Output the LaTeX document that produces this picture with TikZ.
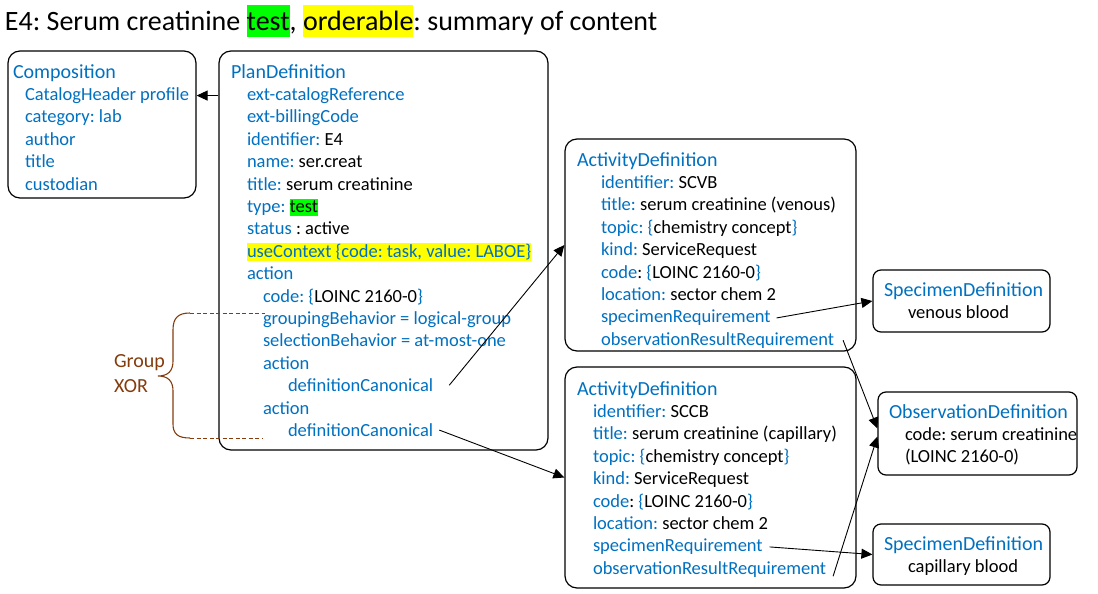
\documentclass[tikz,border=0pt]{standalone}
\usepackage{fontspec}
\setmainfont{Carlito}
\usetikzlibrary{positioning,arrows.meta}

\definecolor{fblue}{HTML}{0070C0}
\definecolor{xorbrown}{HTML}{843C0C}
\definecolor{hlgreen}{HTML}{00FF00}
\definecolor{hlyellow}{HTML}{FFFF00}

\newcommand{\bl}[1]{\textcolor{fblue}{#1}}
\newcommand{\hl}[3]{{\setlength{\fboxsep}{0pt}\colorbox{#1}{\rule[-0.22em]{0pt}{#2}#3}}}

\tikzset{
  box/.style={draw, rounded corners=12pt, line width=1.2pt, inner sep=0pt},
  smallbox/.style={box, rounded corners=8pt},
  txt/.style={inner sep=0pt, outer sep=0pt, anchor=base west, font=\fontsize{18.5}{22.3}\selectfont},
  field/.style={txt, text=fblue},
  hdr/.style={txt, text=fblue, font=\fontsize{20}{24}\selectfont},
  nextline/.style={below=22.4pt of #1.base west, anchor=base west},
}

\begin{document}
\frenchspacing
\begin{tikzpicture}[x=1pt, y=-1pt, >={Triangle[length=11pt,width=10pt]}]
  \useasboundingbox (0,0) rectangle (1098,594);

  % title
  \node[txt, font=\fontsize{28}{34}\selectfont] (title) at (5,31)
    {E4: Serum creatinine \hl{hlgreen}{1.15em}{test}, \hl{hlyellow}{1.15em}{orderable}: summary of content};

  % boxes
  \node[box, minimum width=188pt, minimum height=147pt] (comp) at (102,124.5) {};
  \node[box, minimum width=329pt, minimum height=399pt] (plan) at (383.5,250.5) {};
  \node[box, minimum width=291pt, minimum height=212pt] (ad1) at (710.5,245) {};
  \node[box, minimum width=291pt, minimum height=221pt] (ad2) at (710.5,477.5) {};
  \node[smallbox, minimum width=177pt, minimum height=62pt] (sd1) at (961.5,301) {};
  \node[smallbox, minimum width=199pt, minimum height=83pt] (obs) at (977.5,433.5) {};
  \node[smallbox, minimum width=177pt, minimum height=61pt] (sd2) at (961.5,554.5) {};

  % Composition
  \node[hdr] (comph) at (13,78) {Composition};
  \node[field, nextline=comph, xshift=12pt] (ccat) {CatalogHeader profile};
  \node[field, nextline=ccat] (clab) {category: lab};
  \node[field, nextline=clab] (cauth) {author};
  \node[field, nextline=cauth] (ctitle) {title};
  \node[field, nextline=ctitle] (ccust) {custodian};

  % PlanDefinition
  \node[hdr] (planh) at (231,78) {PlanDefinition};
  \node[field, nextline=planh, xshift=16pt] (pcatref) {ext-catalogReference};
  \node[field, nextline=pcatref] (pbill) {ext-billingCode};
  \node[txt, nextline=pbill] (pid) {\bl{identifier:} E4};
  \node[txt, nextline=pid] (pname) {\bl{name:} ser.creat};
  \node[txt, nextline=pname] (ptitle) {\bl{title:} serum creatinine};
  \node[txt, nextline=ptitle] (ptype) {\bl{type:} \hl{hlgreen}{0.97em}{test}};
  \node[txt, nextline=ptype] (pstatus) {\bl{status} : active};
  \node[field, nextline=pstatus] (pctx) {\hl{hlyellow}{0.97em}{useContext \{code: task, value: LABOE\}}};
  \node[field, nextline=pctx] (pact) {action};
  \node[txt, nextline=pact, xshift=16pt] (pcode) {\bl{code: \{}LOINC 2160-0\bl{\}}};
  \node[field, nextline=pcode] (pgroup) {groupingBehavior = logical-group};
  \node[field, nextline=pgroup] (psel) {selectionBehavior = at-most-one};
  \node[field, nextline=psel] (pact1) {action};
  \node[field, nextline=pact1, xshift=25pt] (pdc1) {definitionCanonical};
  \node[field, nextline=pdc1, xshift=-25pt] (pact2) {action};
  \node[field, nextline=pact2, xshift=25pt] (pdc2) {definitionCanonical};

  % ActivityDefinition (venous)
  \node[hdr] (ad1h) at (577,166) {ActivityDefinition};
  \node[txt, nextline=ad1h, xshift=24pt] (ad1id) {\bl{identifier:} SCVB};
  \node[txt, nextline=ad1id] (ad1title) {\bl{title:} serum creatinine (venous)};
  \node[txt, nextline=ad1title] (ad1topic) {\bl{topic: \{}chemistry concept\bl{\}}};
  \node[txt, nextline=ad1topic] (ad1kind) {\bl{kind:} ServiceRequest};
  \node[txt, nextline=ad1kind] (ad1code) {\bl{code}: \bl{\{}LOINC 2160-0\bl{\}}};
  \node[txt, nextline=ad1code] (ad1loc) {\bl{location:} sector chem 2};
  \node[field, nextline=ad1loc] (ad1spec) {specimenRequirement};
  \node[field, nextline=ad1spec] (ad1obs) {observationResultRequirement};

  % ActivityDefinition (capillary)
  \node[hdr] (ad2h) at (577,395) {ActivityDefinition};
  \node[txt, nextline=ad2h, xshift=16pt] (ad2id) {\bl{identifier:} SCCB};
  \node[txt, nextline=ad2id] (ad2title) {\bl{title:} serum creatinine (capillary)};
  \node[txt, nextline=ad2title] (ad2topic) {\bl{topic: \{}chemistry concept\bl{\}}};
  \node[txt, nextline=ad2topic] (ad2kind) {\bl{kind:} ServiceRequest};
  \node[txt, nextline=ad2kind] (ad2code) {\bl{code}: \bl{\{}LOINC 2160-0\bl{\}}};
  \node[txt, nextline=ad2code] (ad2loc) {\bl{location:} sector chem 2};
  \node[field, nextline=ad2loc] (ad2spec) {specimenRequirement};
  \node[field, nextline=ad2spec] (ad2obs) {observationResultRequirement};

  % specimen and observation definitions
  \node[hdr] (sd1h) at (884,296) {SpecimenDefinition};
  \node[txt, nextline=sd1h, xshift=24pt] (sd1v) {venous blood};
  \node[hdr] (obsh) at (889,418) {ObservationDefinition};
  \node[txt, nextline=obsh, xshift=16pt] (obsc) {code: serum creatinine};
  \node[txt, nextline=obsc] (obsl) {(LOINC 2160-0)};
  \node[hdr] (sd2h) at (884,550) {SpecimenDefinition};
  \node[txt, nextline=sd2h, xshift=24pt] (sd2c) {capillary blood};

  % group XOR brace
  \node[txt, text=xorbrown, font=\fontsize{20}{25}\selectfont, align=left, anchor=west] (grp) at (114,374) {Group\\XOR};
  \coordinate (gtop) at (190,313);
  \coordinate (gbot) at (190,438);
  \draw[xorbrown, line width=1.1pt] (gtop) .. controls (178,313) and (173,318) .. (173,330) -- (173,361)
    .. controls (173,371) and (168,376) .. (158,376) .. controls (168,376) and (173,381) .. (173,391)
    -- (173,424) .. controls (173,434) and (178,438) .. (gbot);
  \draw[xorbrown, line width=1pt, dash pattern=on 4pt off 2.5pt] (gtop) -- ++(75,0);
  \draw[xorbrown, line width=1pt, dash pattern=on 4pt off 2.5pt] (gbot) -- ++(72,0);

  % references
  \draw[->, line width=0.9pt] (plan.west |- pcatref.west) -- (comp.east |- pcatref.west);
  \draw[->, line width=0.9pt] ([xshift=16pt]pdc1.east) -- (ad1.west);
  \draw[->, line width=0.9pt] ([xshift=6pt]pdc2.east) -- (ad2.west);
  \draw[->, line width=0.9pt] ([xshift=6pt]ad1spec.east) -- (sd1.west);
  \draw[->, line width=0.9pt] ([xshift=9pt]ad1obs.east) -- ([yshift=5pt]obs.west);
  \draw[->, line width=0.9pt] ([xshift=7pt,yshift=-7pt]ad2obs.east) -- ([yshift=-3pt]obs.west);
  \draw[->, line width=0.9pt] ([xshift=7pt]ad2spec.east) -- (sd2.west);
\end{tikzpicture}
\end{document}
